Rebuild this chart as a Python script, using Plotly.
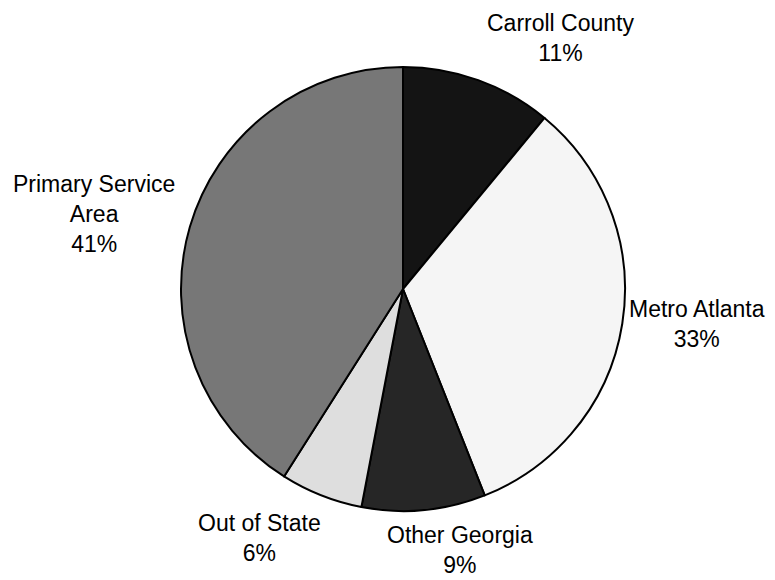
import plotly.graph_objects as go

categories = ["Carroll County", "Metro Atlanta", "Other Georgia", "Out of State", "Primary Service Area"]
shares = [11, 33, 9, 6, 41]
label_text = ["Carroll County<br>11%", "Metro Atlanta<br>33%", "Other Georgia<br>9%",
              "Out of State<br>6%", "Primary Service<br>Area<br>41%"]
slice_colors = ["#141414", "#f5f5f5", "#262626", "#dedede", "#777777"]

# the page body has an 8px margin; figure is sized to fit the window
W, H, OFF = 767, 572, 8


def px(x):
    return (x - OFF) / W


def py(y):
    return 1 - (y - OFF) / H


# label anchor positions (page pixel centres)
label_pos = [(560, 38), (697, 324), (460, 550), (259, 538), (94, 214)]

fig = go.Figure(go.Pie(
    labels=categories,
    values=shares,
    sort=False,
    direction="clockwise",
    rotation=0,
    textinfo="none",
    hoverinfo="label+percent",
    marker=dict(colors=slice_colors, line=dict(color="black", width=2)),
    domain=dict(x=[px(181), px(625)], y=[py(511), py(67)]),
    showlegend=False,
))

for txt, (x, y) in zip(label_text, label_pos):
    fig.add_annotation(x=px(x), y=py(y), xref="paper", yref="paper", text=txt, showarrow=False,
                       xanchor="center", yanchor="middle", align="center",
                       font=dict(family="Liberation Sans, Arial, sans-serif", size=23, color="black"))

fig.update_layout(width=W, height=H, margin=dict(l=0, r=0, t=0, b=0),
                  paper_bgcolor="white", plot_bgcolor="white")

fig.write_html("out.html")
